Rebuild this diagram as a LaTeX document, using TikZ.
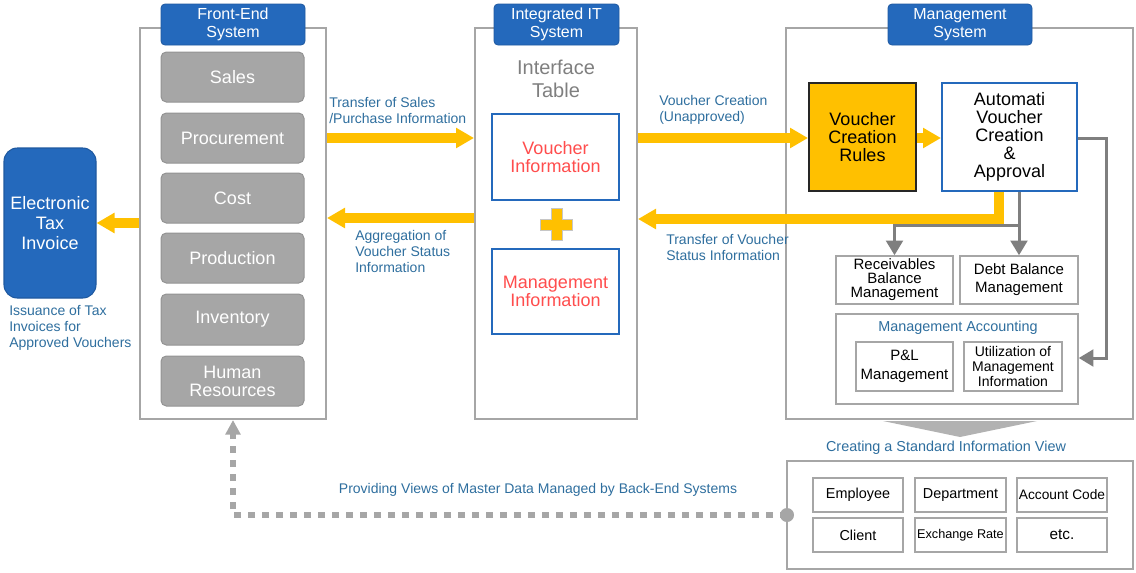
\documentclass[tikz,border=0pt]{standalone}
\usepackage{fontspec}
\setmainfont{Liberation Sans}
\usetikzlibrary{arrows.meta}
\definecolor{hdrblue}{HTML}{2469BC}
\definecolor{lblblue}{HTML}{2E6E9E}
\definecolor{ylw}{HTML}{FFC000}
\definecolor{boxgray}{HTML}{A6A6A6}
\definecolor{edgegray}{HTML}{A6A6A6}
\definecolor{linegray}{HTML}{7F7F7F}
\definecolor{redtxt}{HTML}{FF4D4D}
\definecolor{txtgray}{HTML}{7F7F7F}
\newcommand\fsz[2]{\fontsize{#1}{#2}\selectfont}
\begin{document}
\begin{tikzpicture}[x=0.75pt,y=-0.75pt,
 rect/.style n args={4}{at={({(#1+#3)/2},{(#2+#4)/2})}, minimum width={(#3-#1)*0.75pt}, minimum height={(#4-#2)*0.75pt}},
 container/.style={draw=edgegray, line width=1.5pt, inner sep=0pt},
 header/.style={fill=hdrblue, draw=hdrblue!85!black, line width=0.6pt, rounded corners=3pt, text=white, inner sep=0pt, align=center, font=\fsz{12pt}{13.5pt}},
 module/.style={fill=boxgray, draw=gray!85, line width=0.75pt, rounded corners=4pt, text=white, inner sep=0pt, align=center, font=\fsz{13.5pt}{13.5pt}},
 infobox/.style={draw=hdrblue, line width=1.5pt, fill=white, inner sep=0pt, align=center, text=redtxt, font=\fsz{13.5pt}{13.5pt}},
 smallbox/.style={draw=edgegray, line width=1.1pt, fill=white, inner sep=0pt, align=center, font=\fsz{11pt}{11pt}},
 itembox/.style={draw=edgegray, line width=1.1pt, fill=white, inner sep=0pt, align=center, font=\fsz{10.8pt}{12pt}},
 lbl/.style={text=lblblue, align=left, inner sep=0pt, font=\fsz{10.5pt}{12pt}},
 yarrow/.style={draw=ylw, line width=7pt, -{Triangle[length=13.5pt,width=14.5pt]}},
 garrow/.style={draw=linegray, line width=2.25pt, -{Triangle[length=11pt,width=12.5pt]}},
 dotline/.style={draw=boxgray, line width=4.5pt, dash pattern=on 5pt off 5.5pt, -{Triangle[length=11pt,width=11pt]}},
]
\useasboundingbox (0,0) rectangle (1136,572);

% helper coordinates
\coordinate (r138) at (0,138);
\coordinate (r218) at (0,218);
\coordinate (r219) at (0,219);
\coordinate (r225) at (0,225);
\coordinate (r358) at (0,358);
\coordinate (c999) at (999,0);
\coordinate (c1106) at (1106,0);

% Electronic tax invoice
\node[fill=hdrblue, draw=hdrblue!85!black, line width=0.8pt, rounded corners=10pt, inner sep=0pt, text=white, align=center, font=\fsz{13.5pt}{15pt}, rect={4}{148}{96}{298}] (tax) {Electronic\\Tax\\Invoice};
\node[lbl, anchor=west] (taxlbl) at (9,328) {Issuance of Tax\\Invoices for\\Approved Vouchers};

% Front-End system
\node[container, rect={140}{28}{326}{419}] (fe) {};
\node[header, rect={161}{4}{305}{45}] (feh) {Front-End\\System};
\node[module, rect={161}{52}{304}{102}] (sales) {Sales};
\node[module, rect={161}{113}{304}{163}] (proc) {Procurement};
\node[module, rect={161}{173}{304}{223}] (cost) {Cost};
\node[module, rect={161}{233}{304}{283}] (prod) {Production};
\node[module, rect={161}{294}{304}{345}] (inv) {Inventory};
\node[module, rect={161}{356}{304}{406}] (hr) {Human\\Resources};

% Integrated IT system
\node[container, rect={475}{28}{637}{419}] (it) {};
\node[header, rect={494}{4}{619}{45}] (ith) {Integrated IT\\System};
\node[text=txtgray, align=center, inner sep=0pt, font=\fsz{15pt}{17pt}] (iface) at (556,79) {Interface\\Table};
\node[infobox, rect={492}{114}{619}{200}] (vinfo) {Voucher\\Information};
\node[infobox, rect={492}{249}{619}{334}] (minfo) {Management\\Information};
\fill[ylw, draw=gray!45, line width=0.5pt] (551,208.5) -- (562,208.5) -- (562,219) -- (572.5,219) -- (572.5,230) -- (562,230) -- (562,240.5) -- (551,240.5) -- (551,230) -- (540.5,230) -- (540.5,219) -- (551,219) -- cycle;

% Management system
\node[container, rect={786}{28}{1133}{419}] (ms) {};
\node[header, rect={888}{4}{1032}{45}] (msh) {Management\\System};
\node[fill=ylw, draw=black!85, line width=1.5pt, inner sep=0pt, align=center, font=\fsz{13.5pt}{13.5pt}, rect={809}{83}{916}{191}] (vcr) {Voucher\\Creation\\Rules};
\node[draw=hdrblue, line width=1.5pt, fill=white, inner sep=0pt, align=center, font=\fsz{13.5pt}{13.5pt}, rect={942}{83}{1077}{191}] (auto) {Automati\\Voucher\\Creation\\\&\\Approval};
\node[smallbox, font=\fsz{11.25pt}{10.5pt}, rect={836}{256}{953}{304}] (recv) {Receivables\\Balance\\Management};
\node[smallbox, font=\fsz{11.25pt}{13.5pt}, rect={960}{256}{1078}{304}] (debt) {Debt Balance\\Management};
\node[smallbox, rect={836}{314}{1078}{404}] (ma) {};
\node[lbl, align=center, font=\fsz{10.8pt}{12pt}] (malbl) at (958,328) {Management Accounting};
\node[smallbox, font=\fsz{11.25pt}{14pt}, rect={856}{342}{953}{391}] (pl) {P\&L\\Management};
\node[smallbox, font=\fsz{10.5pt}{11.25pt}, rect={964}{342}{1062}{391}] (util) {Utilization of\\Management\\Information};

% chevron and standard information view
\fill[black!30] (883,421) -- (1037,421) -- (960,437) -- cycle;
\node[lbl, align=center, font=\fsz{10.8pt}{12pt}] (stdlbl) at (946,448) {Creating a Standard Information View};
\node[container, rect={787}{461}{1133}{569}] (std) {};
\node[itembox, rect={813}{478}{903}{512}] (emp) {Employee};
\node[itembox, rect={915}{478}{1006}{512}] (dept) {Department};
\node[itembox, font=\fsz{10.3pt}{12pt}, rect={1017}{478}{1107}{512}] (acc) {Account Code};
\node[itembox, rect={813}{518}{903}{552}] (client) {Client};
\node[itembox, font=\fsz{9.5pt}{12pt}, rect={915}{518}{1006}{552}] (exr) {Exchange Rate};
\node[itembox, font=\fsz{11.5pt}{12pt}, rect={1017}{518}{1107}{552}] (etc) {etc.};

% yellow flows
\draw[yarrow] (fe.east |- r138) -- (it.west |- r138);
\node[lbl, anchor=west] (l1) at (329,110) {Transfer of Sales\\/Purchase Information};
\draw[yarrow] (it.west |- r218) -- (fe.east |- r218);
\node[lbl, anchor=west] (l2) at (355,251) {Aggregation of\\Voucher Status\\Information};
\draw[yarrow] (fe.west |- tax.east) -- (tax.east);
\draw[yarrow] (it.east |- r138) -- (vcr.west |- r138);
\node[lbl, anchor=west] (l3) at (659,110) {Voucher Creation\\(Unapproved)};
\draw[yarrow, line width=8pt] (vcr.east |- r138) -- (auto.west |- r138);
\draw[yarrow, line join=miter] (auto.south -| c999) |- (it.east |- r219);
\node[lbl, anchor=west] (l4) at (666,247) {Transfer of Voucher\\Status Information};

% gray flows
\coordinate (j) at (debt.north |- r225);
\draw[garrow] (auto.south -| debt.north) -- (debt.north);
\draw[garrow] (j) -| (recv.north);
\draw[garrow, line join=miter] (auto.east |- r138) -| (c1106 |- r358) -- (ma.east |- r358);

% master data views
\node[circle, fill=boxgray, inner sep=0pt, minimum size=10.5pt] (dot) at (787,515) {};
\draw[dotline] (dot.center) -| (fe.south);
\node[lbl, align=center, font=\fsz{10.5pt}{12pt}] (l5) at (538,490) {Providing Views of Master Data Managed by Back-End Systems};
\end{tikzpicture}
\end{document}
